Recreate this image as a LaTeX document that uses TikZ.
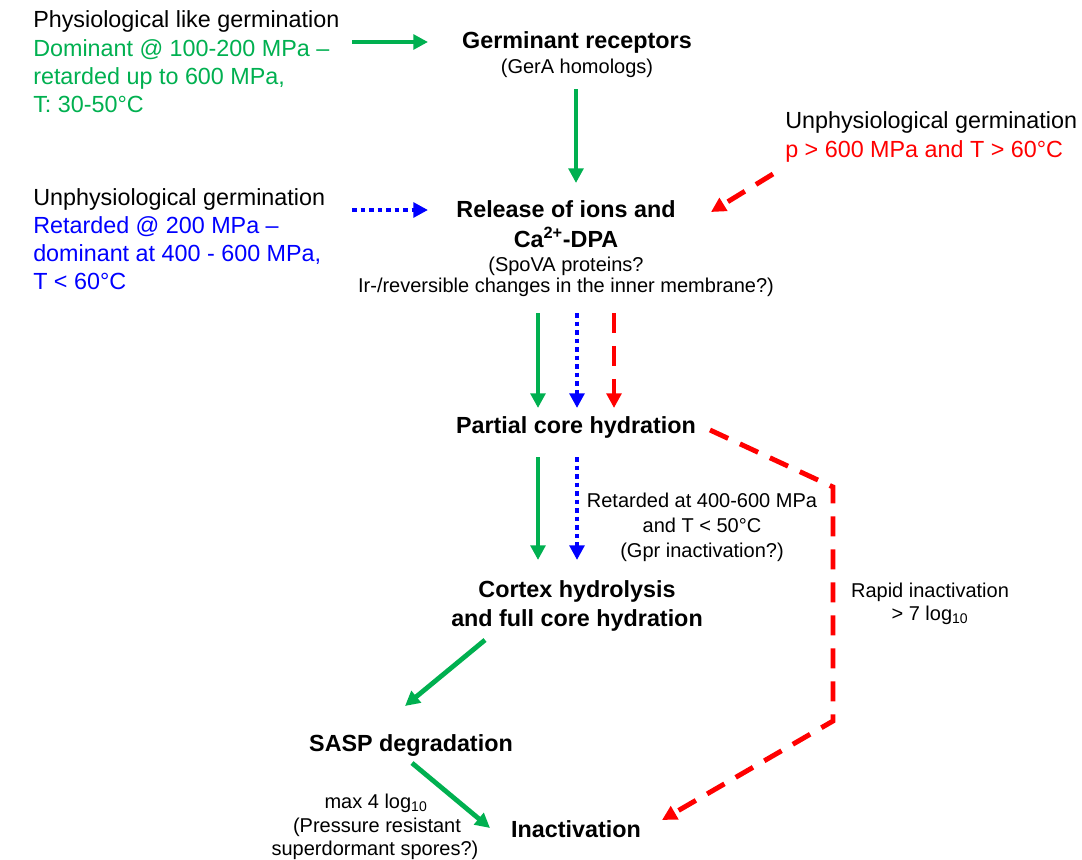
\documentclass[tikz,border=0pt]{standalone}
\usepackage{fontspec}
\setmainfont{Liberation Sans}
\usetikzlibrary{arrows.meta}
\definecolor{ggreen}{RGB}{0,176,80}
\definecolor{gblue}{RGB}{0,0,255}
\definecolor{gred}{RGB}{255,0,0}
\begin{document}
\begin{tikzpicture}[x=0.75pt,y=-0.75pt,
  big/.style={inner sep=0pt, anchor=base, font=\fontsize{17.5}{21}\selectfont},
  bigb/.style={inner sep=0pt, anchor=base, font=\fontsize{17.5}{21}\selectfont\bfseries},
  small/.style={inner sep=0pt, anchor=base, font=\fontsize{15}{18}\selectfont},
  lft/.style={anchor=base west},
  tipstyle/.style={-{Triangle[length=11pt,width=11pt]}},
  garr/.style={tipstyle, draw=ggreen, line width=3.6pt},
  barr/.style={tipstyle, draw=gblue, line width=3.3pt, dash pattern=on 3.4pt off 3pt},
  rarr/.style={tipstyle, draw=gred, line width=3.7pt, dash pattern=on 15pt off 9.75pt}]
\fill[white] (0,0) rectangle (1082,860);
\useasboundingbox (0,0) rectangle (1082,860);

% left top group
\node[big,lft] (pl1) at (33,27) {Physiological like germination};
\node[big,lft,text=ggreen] (pl2) at (33,56) {Dominant @ 100-200 MPa –};
\node[big,lft,text=ggreen] (pl3) at (33,84) {retarded up to 600 MPa,};
\node[big,lft,text=ggreen] (pl4) at (33,112) {T: 30-50°C};

% left middle group
\node[big,lft] (ul1) at (33,205) {Unphysiological germination};
\node[big,lft,text=gblue] (ul2) at (33,233) {Retarded @ 200 MPa –};
\node[big,lft,text=gblue] (ul3) at (33,261) {dominant at 400 - 600 MPa,};
\node[big,lft,text=gblue] (ul4) at (33,289) {T < 60°C};

% right group
\node[big,lft] (ur1) at (785,128) {Unphysiological germination};
\node[big,lft,text=gred] (ur2) at (785,157) {p > 600 MPa and T > 60°C};

% central chain
\node[bigb] (germ) at (577,48) {Germinant receptors};
\node[small] (gera) at (577,73) {(GerA homologs)};

\node[bigb] (rel1) at (566,217) {Release of ions and};
\node[bigb] (rel2) at (566,247) {Ca\textsuperscript{2+}-DPA};
\node[small] (rel3) at (566,271) {(SpoVA proteins?};
\node[small] (rel4) at (566,292) {Ir-/reversible changes in the inner membrane?)};

\node[bigb] (part) at (576,433) {Partial core hydration};

\node[small] (ret1) at (702,507) {Retarded at 400-600 MPa};
\node[small] (ret2) at (702,532) {and T < 50°C};
\node[small] (ret3) at (702,557) {(Gpr inactivation?)};

\node[bigb] (cor1) at (577,597) {Cortex hydrolysis};
\node[bigb] (cor2) at (577,626) {and full core hydration};

\node[small] (rap1) at (930,597) {Rapid inactivation};
\node[small] (rap2) at (930,620) {> 7 log\textsubscript{10}};

\node[bigb] (sasp) at (411,751) {SASP degradation};
\node[bigb] (inact) at (576,837) {Inactivation};

\node[small] (max1) at (376,808) {max 4 log\textsubscript{10}};
\node[small] (max2) at (377,832) {(Pressure resistant};
\node[small] (max3) at (375,855) {superdormant spores?)};

% connector end points
\coordinate (g1s) at (352,42);  \coordinate (g1e) at (428,42);
\coordinate (g2s) at (576,89);  \coordinate (g2e) at (576,183);
\coordinate (b1s) at (352,210); \coordinate (b1e) at (428,210);
\coordinate (r1s) at (773,174); \coordinate (r1e) at (711,212);
\coordinate (g3s) at (538,313); \coordinate (g3e) at (538,408);
\coordinate (b2s) at (577,313); \coordinate (b2e) at (577,408);
\coordinate (r2s) at (614,313); \coordinate (r2e) at (614,408);
\coordinate (r3s) at (710,430); \coordinate (r3a) at (833,487);
\coordinate (r3b) at (833,721); \coordinate (r3e) at (662,820);
\coordinate (g4s) at (538,457); \coordinate (g4e) at (538,560);
\coordinate (b3s) at (577,457); \coordinate (b3e) at (577,560);
\coordinate (g5s) at (485,640); \coordinate (g5e) at (405,706);
\coordinate (g6s) at (412,763); \coordinate (g6e) at (490,828);

\draw[garr] (g1s) -- (g1e);
\draw[garr] (g2s) -- (g2e);
\draw[barr] (b1s) -- (b1e);
\draw[rarr] (r1s) -- (r1e);
\draw[garr] (g3s) -- (g3e);
\draw[barr] (b2s) -- (b2e);
\draw[rarr] (r2s) -- (r2e);
\draw[rarr, line join=miter] (r3s) -- (r3a) -- (r3b) -- (r3e);
\draw[garr] (g4s) -- (g4e);
\draw[barr] (b3s) -- (b3e);
\draw[garr] (g5s) -- (g5e);
\draw[garr] (g6s) -- (g6e);
\end{tikzpicture}
\end{document}
